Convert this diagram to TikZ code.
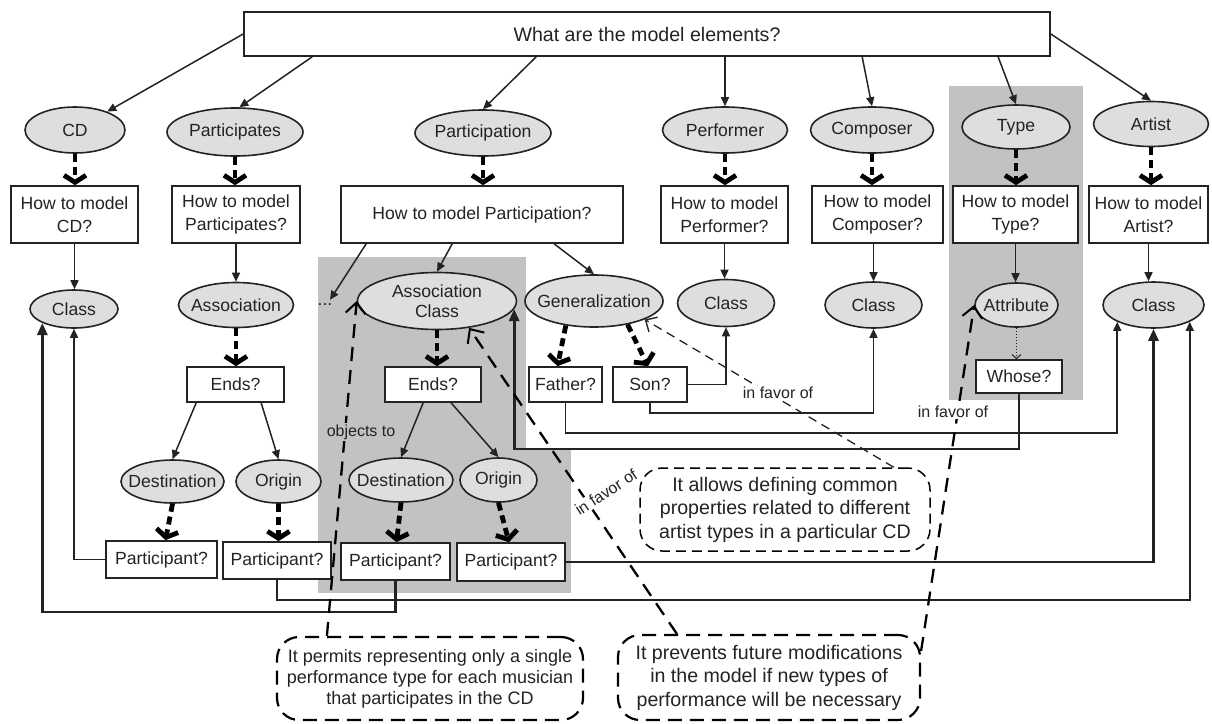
\documentclass[tikz,border=0pt]{standalone}
\usepackage{fontspec}
\setmainfont{Liberation Sans}
\usetikzlibrary{shapes.geometric,arrows.meta,calc}
\definecolor{ink}{RGB}{35,35,35}
\definecolor{groupgray}{RGB}{194,194,194}
\definecolor{ellfill}{RGB}{222,222,222}
\newcommand{\nodefont}{\fontsize{17.6}{23}\selectfont}
\newcommand{\titlefont}{\fontsize{19.6}{23}\selectfont}
\newcommand{\notefont}{\fontsize{19.6}{23.5}\selectfont}
\newcommand{\smallnotefont}{\fontsize{18}{21}\selectfont}
\newcommand{\lblfont}{\fontsize{16}{18}\selectfont}
\begin{document}
\begin{tikzpicture}[x=1pt,y=-1pt,
  box/.style={draw=ink,line width=1.7pt,fill=white,text=ink,font=\nodefont,align=center,inner sep=0pt},
  ell/.style={ellipse,draw=ink,line width=1.6pt,fill=ellfill,text=ink,font=\nodefont,align=center,inner xsep=-12pt,inner ysep=0pt},
  arr/.style={draw=ink,line width=1.5pt,-{Triangle[length=9pt,width=8pt]}},
  heavy/.style={draw=ink,line width=2.8pt,-{Triangle[length=12pt,width=10pt]}},
  flow/.style={draw=black,line width=4.8pt,dash pattern=on 8pt off 5pt,-{Straight Barb[length=7pt,width=22pt]}},
  favor/.style={draw=black,line width=2.3pt,dash pattern=on 14pt off 9pt,-{Straight Barb[length=11pt,width=20pt,line width=2pt]}},
  favorthin/.style={draw=ink,line width=1.3pt,dash pattern=on 9pt off 6pt,-{Straight Barb[length=9pt,width=17pt,line width=1.4pt]}},
  dotarr/.style={draw=ink,line width=1.2pt,dash pattern=on 1.5pt off 1.5pt,-{Straight Barb[length=4pt,width=9pt,line width=1pt]}},
  note/.style={draw=black,rounded corners=22pt,line width=2.2pt,dash pattern=on 14pt off 8pt,fill=white,text=ink,align=center,inner sep=0pt},
  lbl/.style={text=ink,font=\lblfont,inner sep=1.5pt}]
\useasboundingbox (0,0) rectangle (1212,723);

% shaded groups
\fill[groupgray] (318,257) rectangle (526,593);
\fill[groupgray] (526,450) rectangle (571,593);
\fill[groupgray] (949,86) rectangle (1083,400);

% root question
\node[box,font=\titlefont,minimum width=806pt,minimum height=44pt] (title) at (647,34) {What are the model elements?};

% model elements
\node[ell,minimum width=100pt,minimum height=46pt] (cd) at (75,130) {CD};
\node[ell,minimum width=136pt,minimum height=48pt] (parts) at (235,132) {Participates};
\node[ell,minimum width=136pt,minimum height=46pt] (partn) at (483,133) {Participation};
\node[ell,minimum width=125pt,minimum height=46pt] (perf) at (725,130) {Performer};
\node[ell,minimum width=123pt,minimum height=46pt] (comp) at (872,130) {Composer};
\node[ell,minimum width=108pt,minimum height=44pt] (type) at (1016,127) {Type};
\node[ell,minimum width=115pt,minimum height=45pt] (artist) at (1151,124) {Artist};

% how-to questions
\node[box,minimum width=127pt,minimum height=57pt] (qcd) at (74.5,214.5) {How to model\\CD?};
\node[box,minimum width=128pt,minimum height=57pt] (qparts) at (236,214.5) {How to model\\Participates?};
\node[box,minimum width=282pt,minimum height=57pt] (qpartn) at (482,214.5) {How to model Participation?};
\node[box,minimum width=127pt,minimum height=57pt] (qperf) at (724.5,214.5) {How to model\\Performer?};
\node[box,minimum width=131pt,minimum height=57pt] (qcomp) at (877.5,214.5) {How to model\\Composer?};
\node[box,minimum width=125pt,minimum height=57pt] (qtype) at (1015.5,214.5) {How to model\\Type?};
\node[box,minimum width=119pt,minimum height=57pt] (qartist) at (1148.5,214.5) {How to model\\Artist?};

% modelling choices
\node[ell,minimum width=88pt,minimum height=38pt] (class1) at (74,309) {Class};
\node[ell,minimum width=115pt,minimum height=45pt] (assoc) at (236,305) {Association};
\node[text=ink,font=\nodefont,inner sep=0pt] (dots) at (325,305) {...};
\node[ell,minimum width=159pt,minimum height=57pt] (ac) at (437,301) {Association\\[-3pt]Class};
\node[ell,minimum width=138pt,minimum height=52pt] (gen) at (594,301) {Generalization};
\node[ell,minimum width=97pt,minimum height=47pt] (class5) at (726,303) {Class};
\node[ell,minimum width=97pt,minimum height=46pt] (class6) at (873.5,305) {Class};
\node[ell,minimum width=83pt,minimum height=44pt] (attr) at (1016.5,305) {Attribute};
\node[ell,minimum width=101pt,minimum height=46pt] (class7) at (1153.5,305) {Class};

% follow-up questions
\node[box,minimum width=97pt,minimum height=35pt] (ends1) at (235.5,384.5) {Ends?};
\node[box,minimum width=96pt,minimum height=35pt] (ends2) at (433,384.5) {Ends?};
\node[box,minimum width=73pt,minimum height=35pt] (father) at (565.5,384.5) {Father?};
\node[box,minimum width=74pt,minimum height=35pt] (son) at (650,384.5) {Son?};
\node[box,minimum width=86pt,minimum height=33pt] (whose) at (1019,376.5) {Whose?};

% association ends
\node[ell,minimum width=103pt,minimum height=43pt] (dest1) at (172.5,481.5) {Destination};
\node[ell,minimum width=85pt,minimum height=43pt] (orig1) at (278.5,481.5) {Origin};
\node[ell,minimum width=104pt,minimum height=44pt] (dest2) at (401,480) {Destination};
\node[ell,minimum width=77pt,minimum height=44pt] (orig2) at (498.5,480) {Origin};

\node[box,minimum width=111pt,minimum height=37pt] (p1) at (161.5,559.5) {Participant?};
\node[box,minimum width=108pt,minimum height=37pt] (p2) at (277,560.5) {Participant?};
\node[box,minimum width=109pt,minimum height=37pt] (p3) at (395.5,561.5) {Participant?};
\node[box,minimum width=108pt,minimum height=38pt] (p4) at (511,562) {Participant?};

% arguments
\node[note,line width=1.5pt,dash pattern=on 10pt off 6pt,font=\notefont,minimum width=290pt,minimum height=83pt] (allows) at (785,509.5)
  {It allows defining common\\properties related to different\\artist types in a particular CD};
\node[note,font=\smallnotefont,minimum width=306pt,minimum height=83pt] (permits) at (430,678.5)
  {It permits representing only a single\\performance type for each musician\\that participates in the CD};
\node[note,font=\notefont,minimum width=302pt,minimum height=85pt] (prevents) at (769,677.5)
  {It prevents future modifications\\in the model if new types of\\performance will be necessary};

% root to elements
\draw[arr] (title.west) -- (cd);
\draw[arr] ($(title.south west)+(69,0)$) -- (parts.80);
\draw[arr] ($(title.south west)+(293,0)$) -- (partn.north);
\draw[arr] (perf.north |- title.south) -- (perf.north);
\draw[arr] ($(title.south west)+(619,0)$) -- (comp.north);
\draw[arr] ($(title.south west)+(755,0)$) -- (type.north);
\draw[arr] (title.east) -- (artist.north);

% elements to questions
\foreach \e/\q in {cd/qcd,parts/qparts,partn/qpartn,perf/qperf,comp/qcomp,type/qtype,artist/qartist}
  \draw[flow] (\e.south) -- (\e.south |- \q.north);

% questions to choices
\draw[arr] (qcd.south) -- (qcd.south |- class1.north);
\draw[arr] (qparts.south) -- (qparts.south |- assoc.north);
\draw[arr] ($(qpartn.south west)+(26,0)$) -- ($(dots.north)+(5,-4)$);
\draw[arr] ($(qpartn.south west)+(112,0)$) -- (ac.north);
\draw[arr] ($(qpartn.south west)+(214,0)$) -- (gen.north);
\draw[arr] (qperf.south) -- (qperf.south |- class5.north);
\draw[arr] (qcomp.south -| class6.north) -- (class6.north);
\draw[arr] (qtype.south) -- (qtype.south |- attr.north);
\draw[arr] (qartist.south) -- (qartist.south |- class7.north);

% choices to follow-up questions
\draw[flow] (assoc.south) -- (assoc.south |- ends1.north);
\draw[flow] (ac.south) -- (ac.south |- ends2.north);
\draw[flow] (gen.221) -- ($(father.north)+(-8,0)$);
\draw[flow] (gen.-35) -- ($(son.north)+(-2,0)$);
\draw[dotarr] (attr.south) -- (attr.south |- whose.north);

% ends
\draw[arr] ($(ends1.south west)+(10,0)$) -- (dest1.north);
\draw[arr] ($(ends1.south west)+(75,0)$) -- (orig1.north);
\draw[arr] ($(ends2.south west)+(39,0)$) -- (dest2.north);
\draw[arr] ($(ends2.south west)+(67,0)$) -- (orig2.north);
\draw[flow] (dest1.south) -- ($(p1.north)+(4,0)$);
\draw[flow] (orig1.south) -- (orig1.south |- p2.north);
\draw[flow] (dest2.south) -- ($(p3.north)+(1,0)$);
\draw[flow] (orig2.south) -- ($(p4.north)+(-2,0)$);

% answers pointing to classes
\draw[arr] (p1.west) -| (class1.south);
\draw[heavy] (p3.south) -- (p3.south |- 0,612) -| (class1.south west);
\draw[arr] (p2.south) -- (p2.south |- 0,600) -| (class7.south east);
\draw[heavy] (p4.east) -| (class7.south);
\draw[arr] (son.east) -| (class5.south);
\draw[arr] (son.south) -- (son.south |- 0,413) -| (class6.south);
\draw[arr] (father.south) -- (father.south |- 0,433) -| (class7.south west);
\draw[heavy] (whose.south) -- (whose.south |- 0,449) -| (ac.-6);

% arguments for and against
\draw[favor] ($(permits.north west)+(51,0)$) -- (ac.west);
\draw[favor] ($(prevents.north west)+(60,0)$) -- (ac.-40);
\draw[favorthin] ($(allows.north east)+(-37,0)$) -- (gen.-20);
\draw[favor] ($(prevents.north east)+(0,17)$) -- (attr.west);

\node[lbl,fill=groupgray] (lobj) at (361,432) {objects to};
\node[lbl,fill=white,rotate=33] (lfav1) at (606,492) {in favor of};
\node[lbl,fill=white] (lfav2) at (778,393) {in favor of};
\node[lbl,fill=white] (lfav3) at (953,412) {in favor of};
\end{tikzpicture}
\end{document}
